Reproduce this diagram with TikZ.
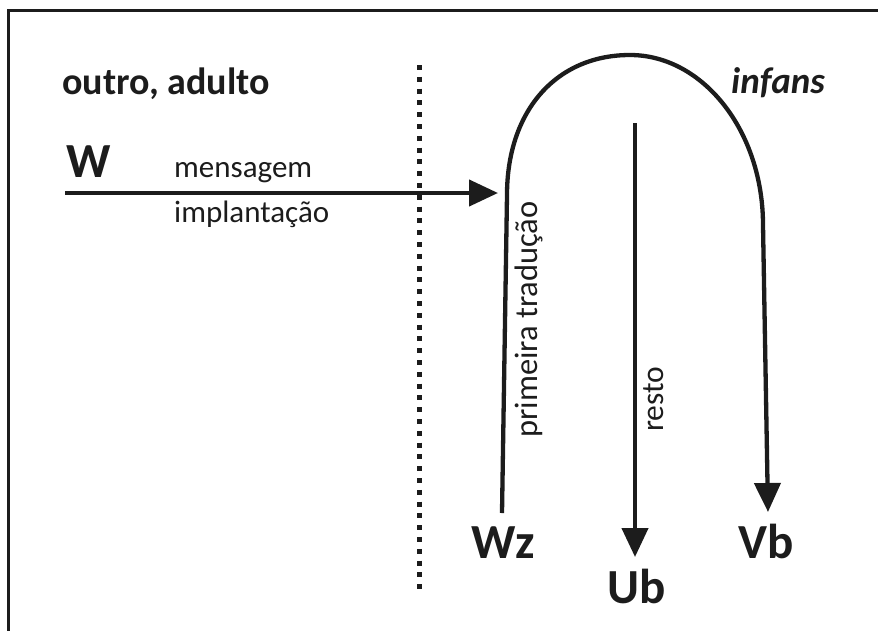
\documentclass[tikz,border=0pt]{standalone}
\usepackage{fontspec}
\setmainfont{Carlito}
\usetikzlibrary{arrows.meta}
\definecolor{inkc}{HTML}{1C1C1C}
\begin{document}
\begin{tikzpicture}[x=1pt,y=-1pt,
  ink/.style={line width=4.3pt, draw=inkc},
  tipped/.style={-{Triangle[length=29pt,width=26pt]}},
  lbl/.style={inner sep=0pt, text=inkc},
  bigl/.style={lbl, font=\fontsize{49}{52}\selectfont\bfseries},
  smalll/.style={lbl, font=\fontsize{31}{34}\selectfont},
  vertl/.style={lbl, rotate=90, anchor=base west, font=\fontsize{32.5}{35}\selectfont},
]
\useasboundingbox (0,0) rectangle (878,630);
% frame (top and left edges visible)
\draw[line width=3pt, draw=inkc] (8.5,632) -- (8.5,10) -- (880,10);

% labels
\node[lbl, anchor=base west, font=\fontsize{38}{42}\selectfont\bfseries] (outro) at (62,94) {outro, adulto};
\node[lbl, anchor=base west, font=\fontsize{37}{42}\selectfont\bfseries\itshape] (infans) at (731,93) {infans};
\node[bigl, anchor=base west] (W) at (66,177) {W};
\node[smalll, anchor=base west] (msg) at (174,177) {mensagem};
\node[smalll, anchor=base west] (impl) at (174,222) {implantação};
\node[vertl] (prim) at (537,438) {primeira tradução};
\node[vertl, font=\fontsize{31.5}{34}\selectfont] (resto) at (663,432) {resto};
\node[bigl, anchor=base west] (Wz) at (471,558) {Wz};
\node[bigl, anchor=base west] (Ub) at (607,603) {Ub};
\node[bigl, anchor=base west] (Vb) at (738,558) {Vb};

% coordinates
\coordinate (aS) at (65,193);
\coordinate (aE) at (498,193);
\coordinate (wzTop) at (502,513);
\coordinate (lTop) at (507,195);
\coordinate (apex) at (630,55);
\coordinate (rTop) at (763,225);
\coordinate (vbTop) at (768,512);
\coordinate (mS) at (635,123);
\coordinate (ubTop) at (635,557);
\coordinate (dT) at (419,65);
\coordinate (dB) at (419,594);

% dotted separator
\draw[line width=5pt, draw=inkc, dash pattern=on 5pt off 6.8pt] (dT) -- (dB);

% message arrow
\draw[ink, tipped] (aS) -- (aE);

% arch
\draw[ink, tipped] (wzTop) -- (lTop) .. controls (507,111) and (556,55) .. (apex)
   .. controls (703,55) and (763,131) .. (rTop) -- (vbTop);

% resto arrow
\draw[ink, tipped] (mS) -- (ubTop);
\end{tikzpicture}
\end{document}
